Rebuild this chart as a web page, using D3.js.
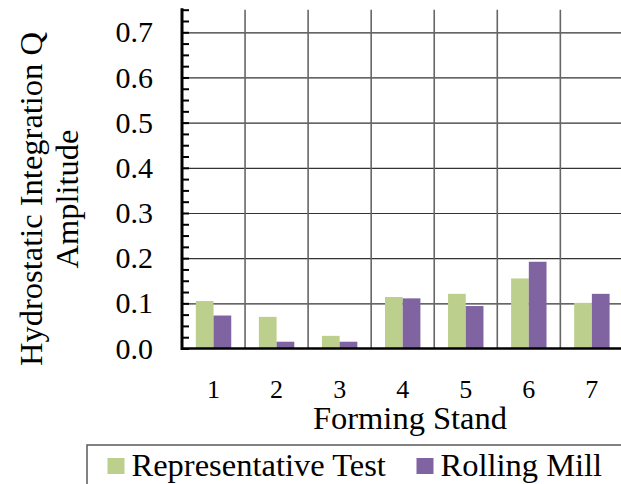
<!DOCTYPE html>
<html>
<head>
<meta charset="UTF-8">
<title>Forming Stand</title>
<script src="https://d3js.org/d3.v7.min.js"></script>
<style>
  body { margin: 0; background: #fff; }
  text { font-family: "Liberation Serif", "Times New Roman", serif; fill: #000; }
</style>
</head>
<body>
<script>
  var stands = ["1", "2", "3", "4", "5", "6", "7"];
  var seriesNames = ["Representative Test", "Rolling Mill"];
  var testValues = [0.105, 0.070, 0.028, 0.114, 0.121, 0.155, 0.101];
  var millValues = [0.073, 0.015, 0.015, 0.111, 0.094, 0.192, 0.121];
  var yTicks = [0, 0.1, 0.2, 0.3, 0.4, 0.5, 0.6, 0.7];
  var colors = ["#bdcf8d", "#8064a2"];

  var width = 621, height = 484;
  var plotLeft = 182, plotRight = 623.4, plotTop = 9.7, plotBottom = 348.5;

  var svg = d3.select("body").append("svg")
      .attr("width", width)
      .attr("height", height);

  var x0 = d3.scaleBand().domain(stands).range([plotLeft, plotRight]).padding(0);
  var x1 = d3.scaleBand().domain(seriesNames).range([0, x0.bandwidth()])
      .paddingInner(0).paddingOuter(0.78);
  var y = d3.scaleLinear().domain([0, 0.75]).range([plotBottom, plotTop]);

  // horizontal gridlines
  svg.append("g")
      .attr("transform", "translate(" + plotLeft + ",0)")
      .call(d3.axisLeft(y).tickValues(yTicks.slice(1)).tickSize(-(plotRight - plotLeft)).tickFormat(""))
      .call(function(g) {
        g.select(".domain").remove();
        g.selectAll("line").attr("stroke", "#333").attr("stroke-width", 1.2);
      });

  // vertical gridlines between stands
  svg.append("g").selectAll("line")
      .data(stands.slice(1))
      .enter().append("line")
      .attr("x1", function(d) { return x0(d); })
      .attr("x2", function(d) { return x0(d); })
      .attr("y1", y(0.75))
      .attr("y2", plotBottom)
      .attr("stroke", "#666")
      .attr("stroke-width", 1.6);

  // bars
  var rows = stands.map(function(s, i) {
    return { stand: s, values: [testValues[i], millValues[i]] };
  });
  var groups = svg.append("g").selectAll("g")
      .data(rows)
      .enter().append("g")
      .attr("transform", function(d) { return "translate(" + x0(d.stand) + ",0)"; });
  groups.selectAll("rect")
      .data(function(d) { return d.values.map(function(v, j) { return { name: seriesNames[j], v: v, j: j }; }); })
      .enter().append("rect")
      .attr("x", function(d) { return x1(d.name); })
      .attr("width", x1.bandwidth())
      .attr("y", function(d) { return y(d.v); })
      .attr("height", function(d) { return plotBottom - y(d.v); })
      .attr("fill", function(d) { return colors[d.j]; });

  // y tick labels
  svg.append("g")
      .attr("transform", "translate(" + plotLeft + ",0)")
      .call(d3.axisLeft(y).tickValues(yTicks).tickSize(0).tickPadding(29).tickFormat(d3.format(".1f")))
      .call(function(g) {
        g.select(".domain").remove();
        g.selectAll("text").style("font-size", "30px")
          .style("font-family", "'Liberation Serif', 'Times New Roman', serif");
      });

  // minor ticks inside the axis
  svg.append("g")
      .attr("transform", "translate(" + plotLeft + ",0)")
      .call(d3.axisRight(y).tickValues(d3.range(0, 0.7501, 0.025)).tickSize(7).tickFormat(""))
      .call(function(g) {
        g.select(".domain").remove();
        g.selectAll("line").attr("stroke", "#000").attr("stroke-width", 2);
      });

  // axis lines
  svg.append("line")
      .attr("x1", plotLeft).attr("x2", plotLeft)
      .attr("y1", plotTop - 1.5).attr("y2", plotBottom + 1.5)
      .attr("stroke", "#000").attr("stroke-width", 3);
  svg.append("line")
      .attr("x1", plotLeft).attr("x2", width)
      .attr("y1", plotBottom).attr("y2", plotBottom)
      .attr("stroke", "#000").attr("stroke-width", 2.7);

  // x tick labels
  svg.append("g")
      .attr("transform", "translate(0," + plotBottom + ")")
      .call(d3.axisBottom(x0).tickSize(0).tickPadding(49.5))
      .call(function(g) {
        g.select(".domain").remove();
        g.selectAll("text").style("font-size", "26px")
          .style("font-family", "'Liberation Serif', 'Times New Roman', serif")
          .attr("dy", null);
      });

  // axis titles
  svg.append("text")
      .attr("x", 410).attr("y", 428.5)
      .attr("text-anchor", "middle")
      .style("font-size", "32.5px")
      .text("Forming Stand");

  var yTitle = svg.append("text")
      .attr("transform", "translate(0,199) rotate(-90)")
      .attr("text-anchor", "middle")
      .style("font-size", "32.5px");
  yTitle.append("tspan").attr("x", 0).attr("y", 42).text("Hydrostatic Integration Q");
  yTitle.append("tspan").attr("x", 0).attr("y", 78).text("Amplitude");

  // legend
  svg.append("rect")
      .attr("x", 87).attr("y", 445)
      .attr("width", 560).attr("height", 60)
      .attr("fill", "none")
      .attr("stroke", "#595959")
      .attr("stroke-width", 1.5);

  var legendX = [107.5, 416.5];
  var legend = svg.append("g").selectAll("g")
      .data(seriesNames)
      .enter().append("g")
      .attr("transform", function(d, i) { return "translate(" + legendX[i] + ",0)"; });
  legend.append("rect")
      .attr("x", 0).attr("y", 458)
      .attr("width", 17).attr("height", 16)
      .attr("fill", function(d, i) { return colors[i]; });
  legend.append("text")
      .attr("x", 24).attr("y", 476)
      .style("font-size", "32.5px")
      .text(function(d) { return d; });
</script>
</body>
</html>
